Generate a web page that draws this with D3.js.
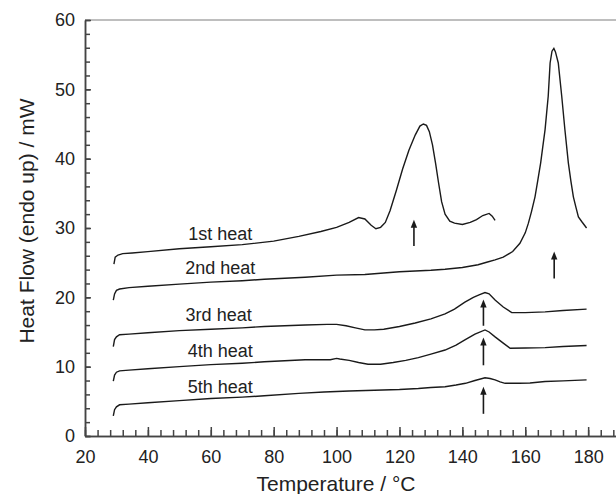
<!DOCTYPE html>
<html>
    <head>
        <script src="https://d3js.org/d3.v7.min.js"></script>
        <style>
            body, html {
                margin: 0;
                padding: 0;
                background: #ffffff;
                font-family: Arial, "Liberation Sans", Helvetica, sans-serif;
            }
            .axis text {
                font-size: 18px;
                fill: #222222;
                font-family: Arial, "Liberation Sans", sans-serif;
            }
            .axis path, .axis line {
                stroke: #444444;
                stroke-width: 1.5;
            }
            .axisLabel {
                font-size: 21px;
                fill: #222222;
            }
            .curve {
                fill: none;
                stroke: #1a1a1a;
                stroke-width: 1.4;
            }
            .curveLabel {
                font-size: 18px;
                fill: #222222;
            }
        </style>
    </head>
    <body>
        <div id="chart"></div>
        <script>

            /* DATA: [temperature (°C), heat flow (mW)] */
            const heat1 = [
                [29.2,24.8],[29.6,25.8],[30.5,26.1],[32,26.3],[35,26.4],[40,26.6],[50,27.0],[60,27.3],
                [70,27.6],[80,28.1],[88,28.8],[95,29.5],[100,30.1],[104,30.8],[107,31.5],[109,31.3],
                [111,30.4],[112.5,29.9],[114,30.1],[115.5,30.8],[117,32.5],[119,35.4],[121,38.5],
                [123,41.2],[125,43.4],[126.5,44.7],[127.6,45.0],[128.6,44.8],[129.5,43.9],[130.5,42.0],
                [131.5,39.3],[132.4,36.6],[133.4,33.8],[134.5,32.0],[136,31.0],[137.5,30.7],[140,30.5],
                [142.5,30.8],[144.5,31.2],[146.5,31.8],[148.5,32.1],[149.5,31.7],[150.4,31.1]
            ];
            const heat2 = [
                [29,19.6],[29.4,20.5],[30,21.0],[31,21.2],[34,21.4],[40,21.6],[50,21.9],[60,22.2],
                [70,22.4],[77,22.6],[90,22.9],[100,23.2],[109,23.3],[120,23.7],[130,23.9],[134.5,24.05],
                [140,24.3],[145,24.7],[148,25.1],[150.4,25.4],[153,25.8],[156,26.6],[158.3,27.8],
                [160,29.3],[161,30.7],[162,32.4],[163.1,34.5],[164,36.9],[164.9,39.4],[165.6,41.8],
                [166.3,44.2],[166.8,46.6],[167.3,49.0],[167.9,53.8],[168.5,55.5],[169.1,55.9],
                [169.6,55.4],[170.5,53.8],[171.6,49.0],[172.6,44.2],[173.7,39.4],[174.5,36.8],
                [175.3,34.5],[176.1,33.0],[176.9,31.6],[178,30.9],[179.5,30.0]
            ];
            const heat3 = [
                [29,12.9],[29.4,13.9],[30,14.3],[31,14.6],[34,14.7],[40,14.9],[50,15.2],[60,15.4],
                [70,15.6],[77,15.8],[90,16.0],[97,16.1],[100,16.1],[103,15.9],[106,15.6],[109,15.3],
                [112,15.3],[115,15.4],[120,15.8],[125,16.3],[130,16.9],[134.5,17.6],[137.5,18.3],
                [140.8,19.3],[143.5,20.0],[145.5,20.4],[147.2,20.7],[148.5,20.5],[150.4,19.6],
                [153,18.6],[155.7,17.8],[160,17.8],[166.3,17.9],[172,18.1],[179.5,18.3]
            ];
            const heat4 = [
                [29,7.9],[29.4,8.8],[30,9.2],[31,9.4],[34,9.5],[40,9.7],[50,10.0],[60,10.3],
                [70,10.5],[77,10.7],[90,11.0],[98,11.0],[100,11.2],[101,11.1],[104,10.9],[107,10.6],
                [110,10.35],[114,10.35],[118,10.6],[122,10.9],[126,11.3],[130,11.8],[134.5,12.4],
                [138,13.1],[140.8,13.85],[144,14.7],[147.2,15.3],[148.5,15.0],[150.4,14.3],
                [153,13.4],[155.2,12.65],[160,12.7],[166.3,12.75],[172,12.9],[179.5,13.05]
            ];
            const heat5 = [
                [29,2.9],[29.4,3.8],[30,4.2],[31,4.5],[34,4.6],[40,4.8],[50,5.1],[60,5.4],
                [70,5.6],[77,5.8],[88,6.15],[96,6.35],[104,6.5],[112,6.6],[120,6.7],[126,6.85],
                [130,7.0],[134.5,7.1],[138,7.35],[141,7.6],[144,8.0],[147.2,8.4],[148.8,8.3],
                [150.4,8.1],[152,7.8],[153.6,7.6],[158,7.6],[161.5,7.65],[166.3,7.85],[172,7.95],
                [179.5,8.1]
            ];
            const curves = [heat1, heat2, heat3, heat4, heat5];

            const curveNames = ["1st heat", "2nd heat", "3rd heat", "4th heat", "5th heat"];
            // label anchor in data units: [temperature, heat flow]
            const labelSpots = [[63, 28.3], [63, 23.4], [62.5, 16.6], [63, 11.4], [63, 6.2]];

            // arrows: [temperature, tail, tip]
            const arrows = [[124.6, 27.4, 31.2], [169.2, 22.7, 26.6], [146.7, 15.9, 19.7], [146.7, 10.2, 14.2], [146.7, 3.2, 7.1]];

            const xTicks = [20, 40, 60, 80, 100, 120, 140, 160, 180];
            const yTicks = [0, 10, 20, 30, 40, 50, 60];

            /* CANVAS */
            const width = 616;
            const height = 494;
            const margin = {top: 20, left: 85, bottom: 58};

            const svg = d3.select("#chart")
                .append("svg")
                .attr("width", width)
                .attr("height", height);

            const xScale = d3.scaleLinear()
                .domain([20, 190])
                .range([margin.left, 619.6]);

            const yScale = d3.scaleLinear()
                .domain([0, 60])
                .range([height - margin.bottom, margin.top]);

            /* TOP FRAME LINE */
            svg.append("line")
                .attr("x1", xScale(20))
                .attr("x2", width)
                .attr("y1", yScale(60))
                .attr("y2", yScale(60))
                .attr("stroke", "#a8a8a8")
                .attr("stroke-width", 1.5);

            /* AXES (ticks point inward) */
            svg.append("g")
                .attr("class", "axis")
                .attr("transform", `translate(0,${yScale(0)})`)
                .call(d3.axisBottom(xScale).tickValues(d3.range(20, 190, 4)).tickSize(-6).tickSizeOuter(0).tickFormat(""));

            svg.append("g")
                .attr("class", "axis")
                .attr("transform", `translate(0,${yScale(0)})`)
                .call(d3.axisBottom(xScale).tickValues(xTicks).tickSize(-9).tickSizeOuter(0).tickPadding(14));

            svg.append("g")
                .attr("class", "axis")
                .attr("transform", `translate(${xScale(20)},0)`)
                .call(d3.axisLeft(yScale).tickValues(d3.range(0, 61, 2)).tickSize(-5).tickSizeOuter(0).tickFormat(""));

            svg.append("g")
                .attr("class", "axis")
                .attr("transform", `translate(${xScale(20)},0)`)
                .call(d3.axisLeft(yScale).tickValues(yTicks).tickSize(-6).tickSizeOuter(0).tickPadding(10));

            /* AXIS TITLES */
            svg.append("text")
                .attr("class", "axisLabel")
                .attr("x", 336)
                .attr("y", 491)
                .attr("text-anchor", "middle")
                .text("Temperature / °C");

            svg.append("text")
                .attr("class", "axisLabel")
                .attr("transform", "translate(34,221) rotate(-90)")
                .attr("text-anchor", "middle")
                .text("Heat Flow (endo up) / mW");

            /* CURVES */
            const line = d3.line()
                .x(d => xScale(d[0]))
                .y(d => yScale(d[1]));

            svg.append("g")
                .selectAll("path")
                .data(curves)
                .enter()
                .append("path")
                .attr("class", "curve")
                .attr("d", line);

            /* LABELS */
            svg.append("g")
                .selectAll("text")
                .data(curveNames)
                .enter()
                .append("text")
                .attr("class", "curveLabel")
                .attr("text-anchor", "middle")
                .attr("x", (d, i) => xScale(labelSpots[i][0]))
                .attr("y", (d, i) => yScale(labelSpots[i][1]))
                .text(d => d);

            /* ARROWS */
            const arrowG = svg.append("g");
            arrows.forEach(a => {
                const x = xScale(a[0]);
                const yTail = yScale(a[1]);
                const yTip = yScale(a[2]);
                arrowG.append("line")
                    .attr("x1", x).attr("x2", x)
                    .attr("y1", yTail).attr("y2", yTip + 4)
                    .attr("stroke", "#1a1a1a")
                    .attr("stroke-width", 1.6);
                arrowG.append("path")
                    .attr("d", `M${x},${yTip} L${x - 3.2},${yTip + 8} L${x + 3.2},${yTip + 8} Z`)
                    .attr("fill", "#1a1a1a");
            });

        </script>
    </body>
</html>
